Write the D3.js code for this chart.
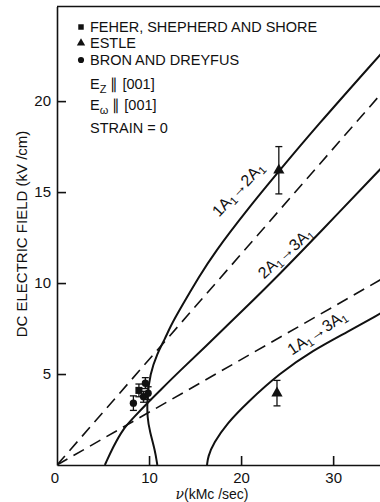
<!DOCTYPE html>
<html>
<head>
  <meta charset="utf-8">
  <title>DC electric field vs frequency</title>
  <script src="https://d3js.org/d3.v7.min.js"></script>
  <style>
    body { margin: 0; background: #fff; }
    svg { display: block; font-family: "Liberation Sans", Arial, sans-serif; }
    .axis path, .axis line { stroke: #111; stroke-width: 1.6; }
    .axis text { font-size: 15px; fill: #111; }
    .curve { fill: none; stroke: #111; stroke-width: 2; }
    .dash { fill: none; stroke: #111; stroke-width: 1.6; stroke-dasharray: 12,7; }
  </style>
</head>
<body>
<svg id="chart" width="380" height="502"></svg>
<script>
  // solid curves (nu in kMc/sec, field in kV/cm)
  var curve12 = [[10.9,0],[10.65,0.8],[10.1,1.8],[9.8,2.6],[9.8,3.7],[10.1,5.0],[10.9,6.15],
                 [11.7,6.9],[12.3,7.6],[13.4,8.6],[15.5,10.4],[17.0,11.6],[20.6,14.0],[24.2,16.2],
                 [28.0,18.5],[35.2,22.6]];
  var curve23 = [[5.2,0],[6.1,1.0],[7.2,2.0],[8.3,2.6],[9.8,3.4],[11.2,4.1],[13.4,5.2],[15.7,6.3],
                 [20.6,8.7],[24.2,10.5],[28.6,12.8],[35.2,16.3]];
  var curve13 = [[16.3,0],[16.4,0.45],[17.0,1.2],[18.5,2.3],[20.6,3.4],[24.2,5.05],[27.8,6.3],
                 [31.5,7.3],[35.2,8.35]];
  // dashed straight lines from the origin
  var dashUpper = [[0,0],[35.2,20.4]];
  var dashLower = [[0,0],[35.2,10.2]];

  // measured points: [nu, field, error]
  var feher = [[8.9,4.1,0.35]];
  var estle = [[24.1,16.2,1.3],[23.9,3.95,0.7]];
  var bron = [[8.3,3.4,0.4],[9.6,4.5,0.3],[9.4,3.75,0.3],[9.9,3.95,0.35]];

  var xTicks = [10,20,30];
  var yTicks = [5,10,15,20];

  var svg = d3.select("#chart");
  var x = d3.scaleLinear().domain([0,35.2]).range([57,381]);
  var y = d3.scaleLinear().domain([0,25.2]).range([465,6.5]);

  svg.append("clipPath").attr("id","clip")
    .append("rect").attr("x",57).attr("y",6.5).attr("width",324).attr("height",458.5);

  // frame: top border
  svg.append("line").attr("x1",x(0)).attr("x2",380).attr("y1",y(25.2)).attr("y2",y(25.2))
    .attr("stroke","#111").attr("stroke-width",1.6);

  // axes
  svg.append("g").attr("class","axis")
    .attr("transform","translate(0,"+y(0)+")")
    .call(d3.axisBottom(x).tickValues(xTicks).tickSize(-9).tickPadding(6).tickSizeOuter(0))
    .selectAll("text").attr("y",18).attr("dy",0);
  svg.append("g").attr("class","axis")
    .attr("transform","translate("+x(0)+",0)")
    .call(d3.axisLeft(y).tickValues(yTicks).tickSize(-9).tickPadding(6).tickSizeOuter(0));
  svg.append("text").attr("x",x(0)-2).attr("y",y(0)+18).attr("text-anchor","middle")
    .attr("font-size",15).attr("fill","#111").text("0");

  // axis titles
  svg.append("text").attr("x",212).attr("y",499).attr("text-anchor","middle")
    .attr("font-size",14).attr("fill","#111")
    .html('<tspan font-style="italic" font-family="DejaVu Serif">ν</tspan>(kMc /sec)');
  svg.append("text").attr("transform","translate(27,234) rotate(-90)")
    .attr("text-anchor","middle").attr("font-size",15).attr("fill","#111")
    .text("DC ELECTRIC FIELD  (kV /cm)");

  var plot = svg.append("g").attr("clip-path","url(#clip)");
  var line = d3.line().x(function (d) { return x(d[0]); }).y(function (d) { return y(d[1]); });
  var smooth = d3.line().curve(d3.curveBasis)
    .x(function (d) { return x(d[0]); }).y(function (d) { return y(d[1]); });

  plot.append("path").attr("class","dash").attr("d",line(dashUpper));
  plot.append("path").attr("class","dash").attr("d",line(dashLower));
  [curve12, curve23, curve13].forEach(function (c) {
    plot.append("path").attr("class","curve").attr("d",smooth(c));
  });

  // error bars and markers
  function errBars(data) {
    data.forEach(function (d) {
      var g = svg.append("g").attr("stroke","#111").attr("stroke-width",1.3);
      g.append("line").attr("x1",x(d[0])).attr("x2",x(d[0])).attr("y1",y(d[1]-d[2])).attr("y2",y(d[1]+d[2]));
      [d[1]-d[2], d[1]+d[2]].forEach(function (v) {
        g.append("line").attr("x1",x(d[0])-3.5).attr("x2",x(d[0])+3.5).attr("y1",y(v)).attr("y2",y(v));
      });
    });
  }
  errBars(feher); errBars(estle); errBars(bron);

  function marks(data, type, size) {
    svg.selectAll(null).data(data).enter().append("path")
      .attr("d", d3.symbol().type(type).size(size))
      .attr("transform", function (d) { return "translate("+x(d[0])+","+y(d[1])+")"; })
      .attr("fill","#111");
  }
  marks(feher, d3.symbolSquare, 50);
  marks(estle, d3.symbolTriangle, 55);
  marks(bron, d3.symbolCircle, 42);

  // curve labels
  function label(txt1, txt2, px, py, ang) {
    var t = svg.append("text").attr("transform","translate("+px+","+py+") rotate("+ang+")")
      .attr("text-anchor","middle").attr("font-size",16).attr("fill","#111");
    t.append("tspan").text(txt1 + "A");
    t.append("tspan").attr("font-size",11).attr("dy",3).text("1");
    t.append("tspan").attr("dy",-3).text("\u2192" + txt2 + "A");
    t.append("tspan").attr("font-size",11).attr("dy",3).text("1");
  }
  label("1","2",242,193,-47);
  label("2","3",289,257,-42);
  label("1","3",320,337,-34);

  // legend
  var leg = svg.append("g").attr("font-size",14.5).attr("fill","#111");
  var legRows = [
    {t:"FEHER, SHEPHERD AND SHORE", s:d3.symbolSquare, yy:32},
    {t:"ESTLE", s:d3.symbolTriangle, yy:48},
    {t:"BRON AND DREYFUS", s:d3.symbolCircle, yy:65}
  ];
  legRows.forEach(function (r) {
    leg.append("path").attr("d", d3.symbol().type(r.s).size(30))
      .attr("transform","translate(81,"+(r.yy-5)+")");
    leg.append("text").attr("x",90).attr("y",r.yy).text(r.t);
  });
  var e1 = leg.append("text").attr("x",90).attr("y",89);
  e1.append("tspan").text("E");
  e1.append("tspan").attr("font-size",11).attr("dy",4).text("Z");
  e1.append("tspan").attr("dy",-4).text(" \u2225 [001]");
  var e2 = leg.append("text").attr("x",90).attr("y",110);
  e2.append("tspan").text("E");
  e2.append("tspan").attr("font-size",11).attr("dy",4).text("\u03c9");
  e2.append("tspan").attr("dy",-4).text(" \u2225 [001]");
  leg.append("text").attr("x",90).attr("y",133).text("STRAIN = 0");
</script>
</body>
</html>
